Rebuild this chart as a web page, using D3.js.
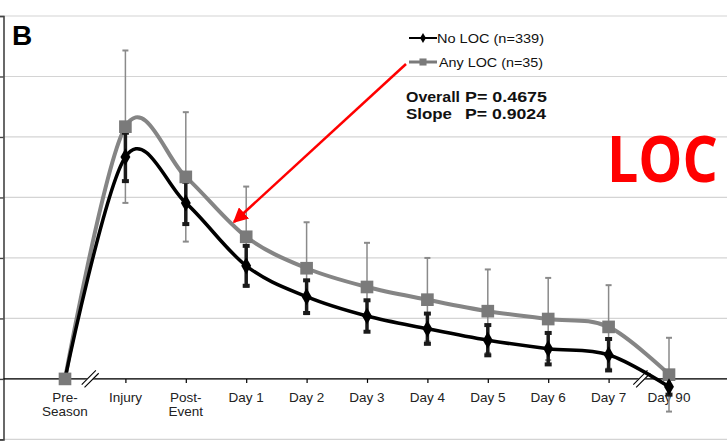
<!DOCTYPE html>
<html>
<head>
<meta charset="utf-8">
<script src="https://cdn.jsdelivr.net/npm/d3@7"></script>
<style>
  body { margin: 0; background: #fff; }
  svg { display: block; font-family: Arial, "Liberation Sans", sans-serif; }
  .grid line { stroke: #d4d4d4; stroke-width: 1.2; }
  .xlabel { font-size: 13.5px; fill: #222; }
</style>
</head>
<body>
<div id="chart"></div>
<script>
var categories = ["Pre-Season", "Injury", "Post-Event", "Day 1", "Day 2", "Day 3", "Day 4", "Day 5", "Day 6", "Day 7", "Day 90"];
var noLocMean = [0, 3.67, 2.91, 1.87, 1.36, 1.04, 0.83, 0.64, 0.50, 0.40, -0.13];
var noLocErr  = [0, 0.40, 0.35, 0.33, 0.27, 0.26, 0.25, 0.25, 0.26, 0.26, 0.13];
var anyLocMean = [0, 4.17, 3.34, 2.35, 1.83, 1.52, 1.31, 1.12, 0.99, 0.86, 0.07];
var anyLocErr  = [0, 1.26, 1.07, 0.83, 0.76, 0.73, 0.69, 0.69, 0.68, 0.69, 0.61];
var gridTicks = [-1, 0, 1, 2, 3, 4, 5, 6];
var legendLabels = ["No LOC (n=339)", "Any LOC (n=35)"];
var statLines = [["Overall", "P= 0.4675"], ["Slope", "P= 0.9024"]];

var width = 727, height = 441;

var svg = d3.select("#chart").append("svg")
    .attr("width", width)
    .attr("height", height);

var x = d3.scalePoint()
    .domain(categories)
    .range([65, 669]);

var y = d3.scaleLinear()
    .domain([-1, 6])
    .range([439.4, 16]);

// horizontal grid
svg.append("g")
    .attr("class", "grid")
  .selectAll("line")
    .data(gridTicks)
  .enter().append("line")
    .attr("x1", 3)
    .attr("x2", width)
    .attr("y1", function(d) { return y(d); })
    .attr("y2", function(d) { return y(d); });

// left axis (labels cropped off in the original)
var yAxis = d3.axisLeft(y)
    .tickValues(gridTicks)
    .tickSize(4)
    .tickFormat("");

svg.append("g")
    .attr("transform", "translate(3.5,0)")
    .call(yAxis)
    .call(function(g) {
      g.select(".domain").attr("stroke", "#444").attr("stroke-width", 1.6);
      g.selectAll(".tick line").attr("stroke", "#444").attr("stroke-width", 1.4);
    });

// x axis at zero
var xAxis = d3.axisBottom(x)
    .tickSize(4)
    .tickFormat("");

svg.append("g")
    .attr("transform", "translate(0," + y(0) + ")")
    .call(xAxis)
    .call(function(g) {
      g.select(".domain").attr("d", "M3.5,0H" + width).attr("stroke", "#000").attr("stroke-width", 1.4);
      g.selectAll(".tick line").attr("stroke", "#000").attr("stroke-width", 1.2);
    });

// category labels, two lines where hyphenated
var labelParts = {"Pre-Season": ["Pre-", "Season"], "Post-Event": ["Post-", "Event"]};
var labelRows = [];
categories.forEach(function(c) {
  (labelParts[c] || [c]).forEach(function(p, i) {
    labelRows.push({cat: c, text: p, row: i});
  });
});
svg.append("g").selectAll("text")
    .data(labelRows)
  .enter().append("text")
    .attr("class", "xlabel")
    .attr("text-anchor", "middle")
    .attr("x", function(d) { return x(d.cat); })
    .attr("y", function(d) { return y(0) + 23 + d.row * 14.5; })
    .text(function(d) { return d.text; });

// axis break marks
[[categories[0], categories[1]], [categories[9], categories[10]]].forEach(function(pair) {
  var cx = (x(pair[0]) + x(pair[1])) / 2 - (pair[0] == "Day 7" ? -3 : 5);
  var cy = y(0);
  var g = svg.append("g").attr("transform", "translate(" + cx + "," + cy + ") rotate(-45)");
  g.append("rect").attr("x", -10).attr("y", -2.5).attr("width", 20).attr("height", 5).attr("fill", "#fff");
  g.append("line").attr("x1", -10).attr("x2", 10).attr("y1", -2).attr("y2", -2).attr("stroke", "#000").attr("stroke-width", 1.1);
  g.append("line").attr("x1", -10).attr("x2", 10).attr("y1", 2).attr("y2", 2).attr("stroke", "#000").attr("stroke-width", 1.1);
});

function rows(means, errs) {
  return categories.map(function(c, i) { return {cat: c, v: means[i], e: errs[i]}; });
}
var noLoc = rows(noLocMean, noLocErr);
var anyLoc = rows(anyLocMean, anyLocErr);

var line = d3.line()
    .x(function(d) { return x(d.cat); })
    .y(function(d) { return y(d.v); })
    .curve(d3.curveCatmullRom.alpha(0));

function errorBars(data, color, sw, cap) {
  var g = svg.append("g");
  var withErr = data.filter(function(d) { return d.e > 0; });
  g.selectAll(".stem").data(withErr).enter().append("line")
      .attr("x1", function(d) { return x(d.cat); })
      .attr("x2", function(d) { return x(d.cat); })
      .attr("y1", function(d) { return y(d.v + d.e); })
      .attr("y2", function(d) { return y(d.v - d.e); })
      .attr("stroke", color).attr("stroke-width", sw);
  [1, -1].forEach(function(s) {
    g.selectAll(".cap" + s).data(withErr).enter().append("line")
        .attr("x1", function(d) { return x(d.cat) - cap; })
        .attr("x2", function(d) { return x(d.cat) + cap; })
        .attr("y1", function(d) { return y(d.v + s * d.e); })
        .attr("y2", function(d) { return y(d.v + s * d.e); })
        .attr("stroke", color).attr("stroke-width", sw + 0.5);
  });
}

// grey series first, black on top
errorBars(anyLoc, "#8a8a8a", 1.5, 3);

svg.append("path")
    .datum(anyLoc)
    .attr("d", line)
    .attr("fill", "none")
    .attr("stroke", "#858585")
    .attr("stroke-width", 4);

errorBars(noLoc, "#1a1a1a", 3.5, 3.5);

svg.append("path")
    .datum(noLoc)
    .attr("d", line)
    .attr("fill", "none")
    .attr("stroke", "#000")
    .attr("stroke-width", 3.5);

var square = d3.symbol().type(d3.symbolSquare).size(160);
var diamond = d3.symbol().type(d3.symbolDiamond).size(85);

svg.append("g").selectAll("path")
    .data(anyLoc)
  .enter().append("path")
    .attr("d", square)
    .attr("transform", function(d) { return "translate(" + x(d.cat) + "," + y(d.v) + ")"; })
    .attr("fill", "#7a7a7a");

svg.append("g").selectAll("path")
    .data(noLoc.slice(1))
  .enter().append("path")
    .attr("d", diamond)
    .attr("transform", function(d) { return "translate(" + x(d.cat) + "," + y(d.v) + ")"; })
    .attr("fill", "#000");

// legend
var legend = svg.append("g").attr("transform", "translate(409,38)");
var legendStyles = [
  {color: "#000", sym: d3.symbol().type(d3.symbolDiamond).size(30), sw: 2, len: 107},
  {color: "#7a7a7a", sym: d3.symbol().type(d3.symbolSquare).size(50), sw: 3, len: 104}
];
legendLabels.forEach(function(txt, i) {
  var row = legend.append("g").attr("transform", "translate(0," + (i * 24) + ")");
  row.append("line").attr("x1", 0).attr("x2", 28).attr("stroke", legendStyles[i].color).attr("stroke-width", legendStyles[i].sw);
  row.append("path").attr("d", legendStyles[i].sym)
     .attr("transform", "translate(14,0)").attr("fill", legendStyles[i].color);
  row.append("text").attr("x", 28 + i * 2).attr("y", 4.8)
     .style("font-size", "13.5px").attr("fill", "#111")
     .attr("textLength", legendStyles[i].len)
     .attr("lengthAdjust", "spacingAndGlyphs")
     .text(txt);
});

// statistics
var statLens = [[54, 82], [46, 81]];
statLines.forEach(function(s, i) {
  [0, 1].forEach(function(k) {
    svg.append("text")
        .attr("x", k == 0 ? 406 : 465)
        .attr("y", 101.5 + i * 17)
        .style("font-size", "14.5px")
        .style("font-weight", "bold")
        .attr("textLength", statLens[i][k])
        .attr("lengthAdjust", "spacingAndGlyphs")
        .attr("fill", "#111")
        .text(s[k]);
  });
});

// panel letter
svg.append("text")
    .attr("x", 12).attr("y", 45)
    .style("font-size", "28px").style("font-weight", "bold")
    .attr("fill", "#000")
    .text("B");

// red annotation arrow pointing at the Any LOC curve near Day 1
var defs = svg.append("defs");
defs.append("marker")
    .attr("id", "arrowhead")
    .attr("viewBox", "0 0 10 10")
    .attr("refX", 9).attr("refY", 5)
    .attr("markerWidth", 6).attr("markerHeight", 6)
    .attr("markerUnits", "strokeWidth")
    .attr("orient", "auto")
  .append("path")
    .attr("d", "M0,0L10,5L0,10z")
    .attr("fill", "#ff0000");

svg.append("line")
    .attr("x1", 406).attr("y1", 64)
    .attr("x2", 234).attr("y2", 222)
    .attr("stroke", "#ff0000")
    .attr("stroke-width", 2.5)
    .attr("marker-end", "url(#arrowhead)");

// big label: squeeze horizontally so it ends just inside the right edge
var loc = svg.append("text")
    .attr("x", 0).attr("y", 0)
    .style("font-family", "'Open Sans', sans-serif")
    .style("font-size", "64px")
    .style("font-weight", "bold")
    .attr("fill", "#ff0000")
    .text("LOC");
var locW = loc.node().getComputedTextLength();
loc.attr("transform", "translate(607,182) scale(" + (111 / locW) + ",1)");
</script>
</body>
</html>
